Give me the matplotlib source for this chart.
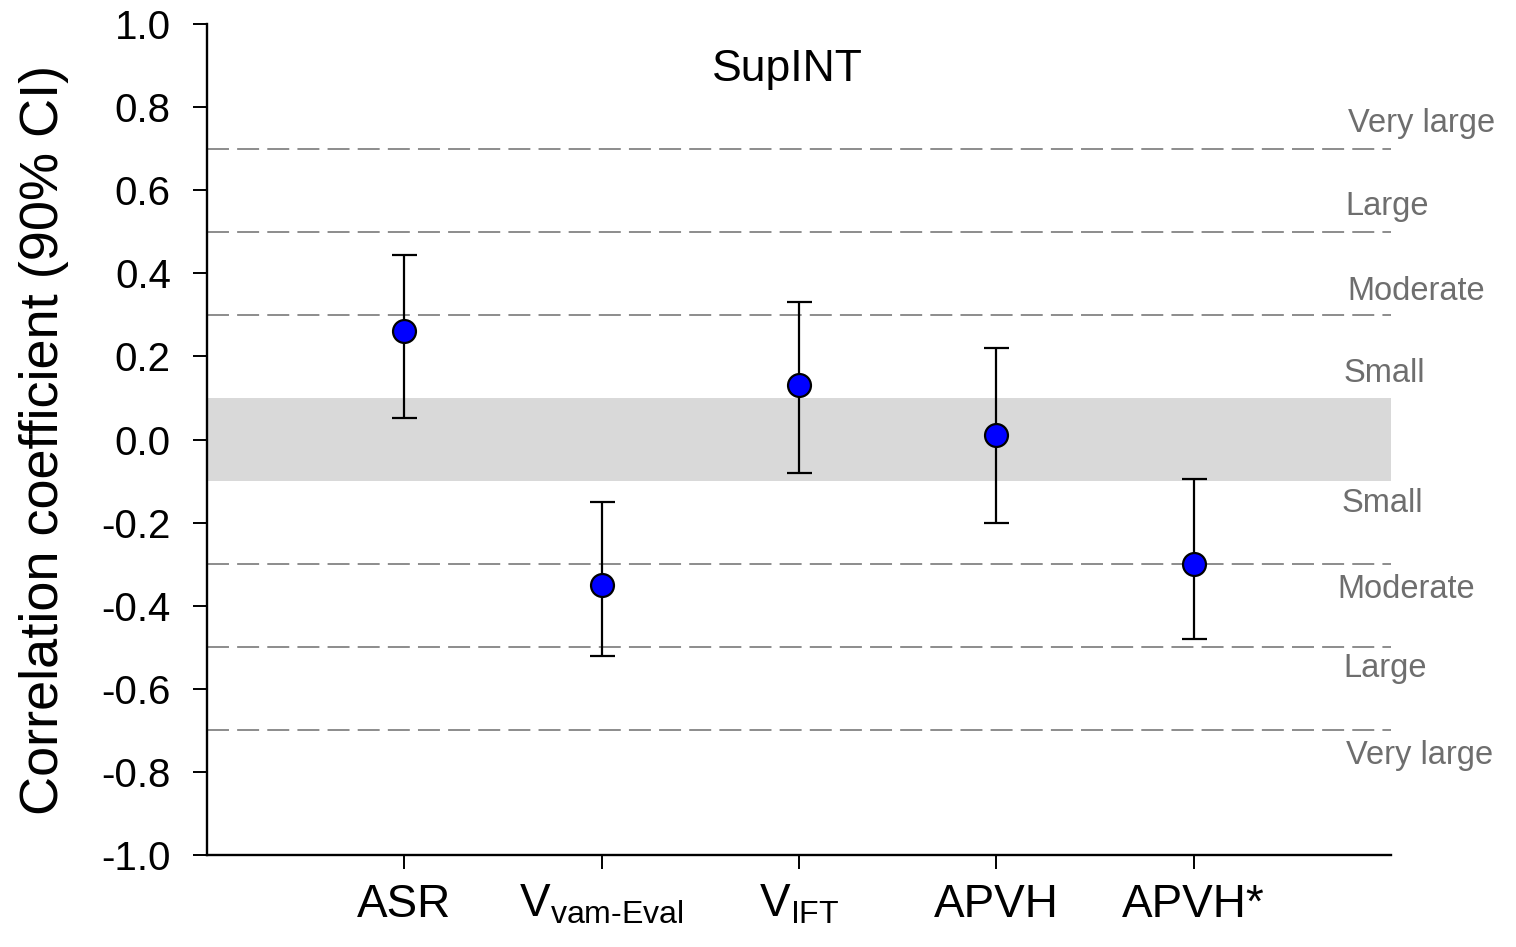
import matplotlib
matplotlib.use("Agg")
import matplotlib.pyplot as plt
import numpy as np

plt.rcParams['font.family'] = ['Liberation Sans', 'DejaVu Sans']
plt.rcParams['mathtext.fontset'] = 'custom'
plt.rcParams['mathtext.rm'] = 'Liberation Sans'
plt.rcParams['mathtext.it'] = 'Liberation Sans'
plt.rcParams['axes.unicode_minus'] = False

# Data
categories = ['ASR', r'V$_{\mathrm{vam\text{-}Eval}}$', r'V$_{\mathrm{IFT}}$', 'APVH', 'APVH*']
r_values = [0.26, -0.35, 0.13, 0.01, -0.30]
ci_upper = [0.445, -0.15, 0.33, 0.22, -0.095]
ci_lower = [0.052, -0.52, -0.08, -0.20, -0.48]

thresholds = [0.7, 0.5, 0.3, -0.3, -0.5, -0.7]
trivial_band = (-0.1, 0.1)
mag_labels = ['Very large', 'Large', 'Moderate', 'Small', 'Small', 'Moderate', 'Large', 'Very large']
mag_label_y = [0.76, 0.56, 0.357, 0.16, -0.155, -0.36, -0.55, -0.76]
mag_label_x = [5.78, 5.77, 5.78, 5.76, 5.75, 5.73, 5.76, 5.77]
y_ticks = np.round(np.linspace(-1.0, 1.0, 11), 1) + 0.0

fig = plt.figure(figsize=(15.16, 9.47), dpi=100)
ax = fig.add_axes([0.1365, 0.0971, 0.9175 - 0.1365, 0.9747 - 0.0971])

x = np.arange(1, len(categories) + 1)

ax.axhspan(trivial_band[0], trivial_band[1], color='#d9d9d9', lw=0, zorder=0)
for t in thresholds:
    ax.axhline(t, color='#8c8c8c', lw=1.4, dashes=(11.3, 4.2), zorder=1)

yerr = [np.array(r_values) - np.array(ci_lower), np.array(ci_upper) - np.array(r_values)]
ax.errorbar(x, r_values, yerr=yerr, fmt='o', color='black', ecolor='black',
            elinewidth=1.6, capsize=9, capthick=1.6,
            markersize=16.5, markerfacecolor='#0000ff', markeredgecolor='black',
            markeredgewidth=1.6, zorder=3)

for lab, ly, lx in zip(mag_labels, mag_label_y, mag_label_x):
    ax.text(lx, ly, lab, fontsize=23.5, color='#6e6e6e', ha='left', va='center', clip_on=False)

ax.text(2.94, 0.89, 'SupINT', fontsize=32, ha='center', va='center')

ax.set_xlim(0, 6)
ax.set_ylim(-1.0, 1.0)
ax.set_xticks(x)
ax.set_xticklabels(categories, fontsize=33)
ax.set_yticks(y_ticks)
ax.set_yticklabels([f'{v:.1f}' for v in y_ticks], fontsize=29)
ax.set_ylabel('Correlation coefficient (90% CI)', fontsize=39, labelpad=23)

for s in ['top', 'right']:
    ax.spines[s].set_visible(False)
for s in ['left', 'bottom']:
    ax.spines[s].set_linewidth(1.7)
ax.tick_params(axis='both', direction='out', length=10, width=1.4)
ax.tick_params(axis='y', pad=16)
ax.tick_params(axis='x', pad=10)

fig.savefig('out.png', dpi=100)
